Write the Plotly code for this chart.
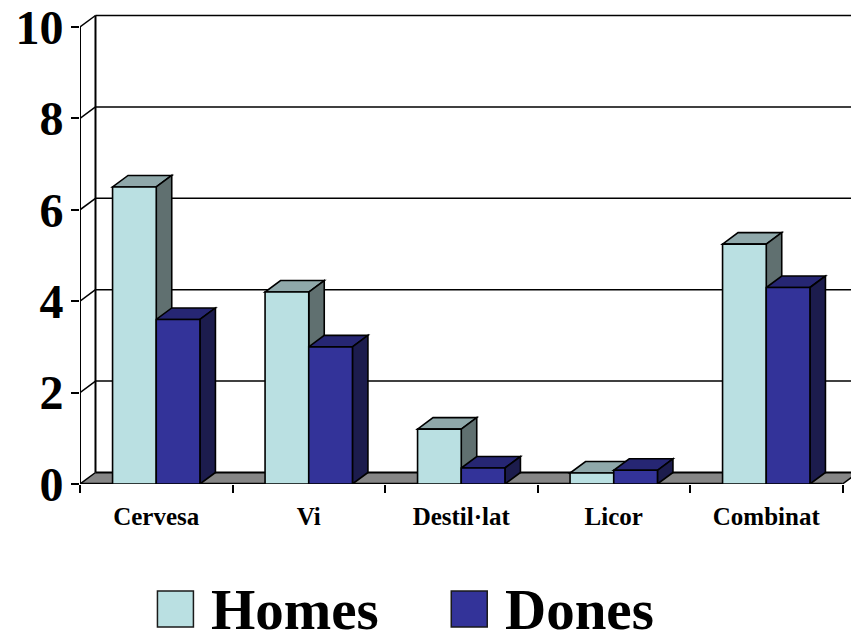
import plotly.graph_objects as go

categories = ["Cervesa", "Vi", "Destil·lat", "Licor", "Combinat"]
homes = [6.5, 4.2, 1.2, 0.24, 5.25]
dones = [3.6, 3.0, 0.35, 0.3, 4.3]
y_ticks = [0, 2, 4, 6, 8, 10]
series_names = ["Homes", "Dones"]

W, H = 851, 631
L, T, B = 79.5, 13, 147
px_per_cat = 152.6
px_per_val = 45.7
DX = 15.5 / px_per_cat
DY = 11.5 / px_per_val
BAR_W = 0.2865
X0, X1 = -0.5, 4.5
XMAX = X0 + (W - L) / px_per_cat
YMAX = (H - T - B) / px_per_val

C_H = ("#BAE0E2", "#8FA8AA", "#607070")
C_D = ("#333399", "#262673", "#1C1C4D")
LINE = "#000000"
FONT = "Liberation Serif"

x_idx = list(range(len(categories)))
shapes = []


def poly(points, fill, width=1.6, color=LINE):
    path = "M " + " L ".join(f"{a},{b}" for a, b in points) + " Z"
    shapes.append(dict(type="path", xref="x", yref="y", path=path, fillcolor=fill,
                       line=dict(color=color, width=width), layer="between"))


def seg(x0, y0, x1, y1, width=1.5):
    shapes.append(dict(type="line", xref="x", yref="y", x0=x0, y0=y0, x1=x1, y1=y1,
                       line=dict(color=LINE, width=width), layer="between"))


# floor
poly([(X0, 0), (X1, 0), (X1 + DX, DY), (X0 + DX, DY)], "#868686", 0)
seg(X0 + DX, DY, XMAX, DY, 2)
seg(X1, 0, X1 + DX * 0.6, DY * 0.6, 1.5)

# back wall and grid
seg(X0 + DX, DY, X0 + DX, 10 + DY, 2)
for t in y_ticks[1:]:
    seg(X0 + DX, t + DY, XMAX, t + DY, 1.5)
for t in y_ticks:
    seg(X0, t, X0 + DX, t + DY, 1.5)

# front axes
seg(X0, 0, X0, 10, 2)
seg(X0, 0, X1, 0, 2.5)

# depth faces of the bars
for i in x_idx:
    for off, v, cols in ((-BAR_W, homes[i], C_H), (0, dones[i], C_D)):
        a, b = i + off, i + off + BAR_W
        poly([(a, v), (b, v), (b + DX, v + DY), (a + DX, v + DY)], cols[1])
        poly([(b, 0), (b, v), (b + DX, v + DY), (b + DX, DY)], cols[2])

fig = go.Figure()
for name, vals, cols in ((series_names[0], homes, C_H), (series_names[1], dones, C_D)):
    fig.add_bar(x=x_idx, y=vals, name=name, width=BAR_W, marker=dict(color=cols[0], line=dict(color=LINE, width=1.6)),
                showlegend=False)


def px(x):
    return (x - L) / (W - L)


def py(y):
    return 1 - (y - T) / (H - T - B)


# legend
annotations = []
for name, col, sx, tx in ((series_names[0], C_H[0], 157, 211), (series_names[1], C_D[0], 451, 505)):
    shapes.append(dict(type="rect", xref="paper", yref="paper", x0=px(sx), x1=px(sx + 36), y0=py(627), y1=py(591),
                       fillcolor=col, line=dict(color="#1a1a1a", width=1.5)))
    annotations.append(dict(xref="paper", yref="paper", x=px(tx), y=py(609), text=f"<b>{name}</b>", showarrow=False,
                            xanchor="left", yanchor="middle", xshift=-2, font=dict(family=FONT, size=57, color="#000")))

fig.update_layout(
    width=W, height=H, autosize=False, margin=dict(l=L, r=0, t=T, b=B),
    paper_bgcolor="white", plot_bgcolor="white", barmode="group", bargap=0.427, bargroupgap=0,
    shapes=shapes, annotations=annotations, showlegend=False,
    xaxis=dict(range=[X0, XMAX], tickmode="array", tickvals=x_idx, ticktext=[f"<b>{c}</b>" for c in categories],
               ticks="", showgrid=False, zeroline=False, showline=False,
               tickfont=dict(family=FONT, size=25, color="#000"), ticklabelstandoff=15, ticklabeloverflow="allow",
               minor=dict(tickmode="array", tickvals=[-0.5, 0.5, 1.5, 2.5, 3.5, 4.5], ticks="outside", ticklen=8,
                          tickwidth=1.5, tickcolor=LINE, showgrid=False)),
    yaxis=dict(range=[0, YMAX], tickmode="array", tickvals=y_ticks, ticktext=[f"<b>{t}</b>" for t in y_ticks],
               ticks="outside", ticklen=8, tickwidth=1.5, tickcolor=LINE, showgrid=False, zeroline=False,
               showline=False, ticklabeloverflow="allow", ticklabelstandoff=-2,
               tickfont=dict(family=FONT, size=48, color="#000")),
)
fig.write_html("out.html", config=dict(displayModeBar=False),
               post_script="document.body.style.margin='0';document.body.style.overflow='hidden';")
